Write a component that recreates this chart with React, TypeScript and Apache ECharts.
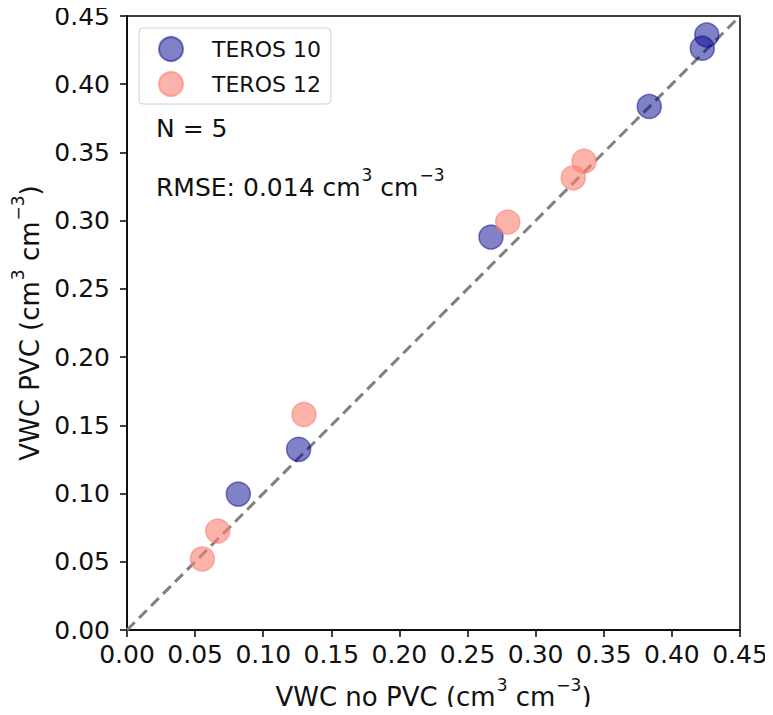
import React, { useEffect, useRef } from "react";
import * as echarts from "echarts";

const teros10X = [0.0817, 0.126, 0.2672, 0.3834, 0.4223, 0.4256];
const teros10Y = [0.0996, 0.1324, 0.288, 0.3837, 0.4264, 0.4361];
const teros12X = [0.0553, 0.0666, 0.1299, 0.2795, 0.3276, 0.3355];
const teros12Y = [0.0521, 0.0725, 0.158, 0.299, 0.3314, 0.3436];
const oneToOne = [0, 0.45];
const annotN = "N = 5";
const annotRmse = "0.014";

const FONT = "DejaVu Sans";

export default function App() {
  const ref = useRef<HTMLDivElement>(null);
  useEffect(() => {
    if (!ref.current) return;
    const chart = echarts.init(ref.current, null, { renderer: "svg" });
    const supRich = {
      base: { fontSize: 26, fontFamily: FONT, color: "#111", lineHeight: 32, verticalAlign: "bottom" },
      sup: { fontSize: 17, fontFamily: FONT, color: "#111", lineHeight: 34, verticalAlign: "top", padding: [0, 0, 0, 1] },
    };
    chart.setOption({
      animation: false,
      textStyle: { fontFamily: FONT },
      grid: {
        left: 127,
        right: 33,
        top: 16,
        bottom: 83,
        show: true,
        borderColor: "#000",
        borderWidth: 1.5,
        containLabel: false,
      },
      legend: {
        left: 139,
        top: 28,
        orient: "vertical",
        data: ["TEROS 10", "TEROS 12"],
        icon: "circle",
        itemWidth: 24,
        itemHeight: 24,
        itemGap: 9,
        padding: [8, 10, 7, 19],
        borderColor: "#d0d0d0",
        borderWidth: 1,
        borderRadius: 4,
        backgroundColor: "rgba(255,255,255,0.8)",
        textStyle: { fontSize: 22, fontFamily: FONT, color: "#111", padding: [0, 0, 0, 24] },
      },
      xAxis: {
        type: "value",
        min: 0,
        max: 0.45,
        interval: 0.05,
        name: `{base|VWC no PVC (cm}{sup|3}{base| cm}{sup|−3}{base|)}`,
        nameLocation: "middle",
        nameGap: 46,
        nameTextStyle: { rich: supRich },
        axisLine: { lineStyle: { color: "#000", width: 1.5 } },
        axisTick: { show: true, inside: false, length: 7, lineStyle: { color: "#000", width: 1.5 } },
        axisLabel: {
          fontSize: 25,
          color: "#111",
          margin: 12,
          fontFamily: FONT,
          formatter: (v: number) => v.toFixed(2),
        },
        splitLine: { show: false },
      },
      yAxis: {
        type: "value",
        min: 0,
        max: 0.45,
        interval: 0.05,
        name: `{base|VWC PVC (cm}{sup|3}{base| cm}{sup|−3}{base|)}`,
        nameLocation: "middle",
        nameGap: 72,
        nameRotate: 90,
        nameTextStyle: { rich: supRich },
        axisLine: { lineStyle: { color: "#000", width: 1.5 } },
        axisTick: { show: true, inside: false, length: 7, lineStyle: { color: "#000", width: 1.5 } },
        axisLabel: {
          fontSize: 25,
          color: "#111",
          margin: 17,
          fontFamily: FONT,
          formatter: (v: number) => v.toFixed(2),
        },
        splitLine: { show: false },
      },
      series: [
        {
          name: "1:1",
          type: "line",
          data: oneToOne.map((v) => [v, v]),
          symbol: "none",
          lineStyle: { color: "#808080", width: 3, type: [11, 6] },
          z: 1,
          silent: true,
        },
        {
          name: "TEROS 10",
          type: "scatter",
          data: teros10X.map((x, i) => [x, teros10Y[i]]),
          symbolSize: 24,
          itemStyle: { color: "rgba(0,0,139,0.62)", borderColor: "rgba(0,0,139,0.62)", borderWidth: 1.5 },
          z: 3,
        },
        {
          name: "TEROS 12",
          type: "scatter",
          data: teros12X.map((x, i) => [x, teros12Y[i]]),
          symbolSize: 24,
          itemStyle: { color: "rgba(250,128,114,0.75)", borderColor: "rgba(250,128,114,0.75)", borderWidth: 1.5 },
          z: 3,
        },
      ],
      graphic: [
        {
          type: "text",
          left: 156,
          top: 116,
          style: { text: annotN, fontSize: 25, fontFamily: FONT, fill: "#111" },
        },
        {
          type: "text",
          left: 156,
          top: 166,
          style: {
            text: `{base|RMSE: ${annotRmse} cm}{sup|3}{base| cm}{sup|−3}`,
            rich: {
              base: { fontSize: 25, fontFamily: FONT, fill: "#111", lineHeight: 32, verticalAlign: "bottom" },
              sup: { fontSize: 17, fontFamily: FONT, fill: "#111", lineHeight: 34, verticalAlign: "top", padding: [0, 0, 0, 1] },
            },
          },
        },
      ],
    });
    return () => chart.dispose();
  }, []);
  return <div ref={ref} style={{ width: 773, height: 715, margin: -8 }} />;
}
